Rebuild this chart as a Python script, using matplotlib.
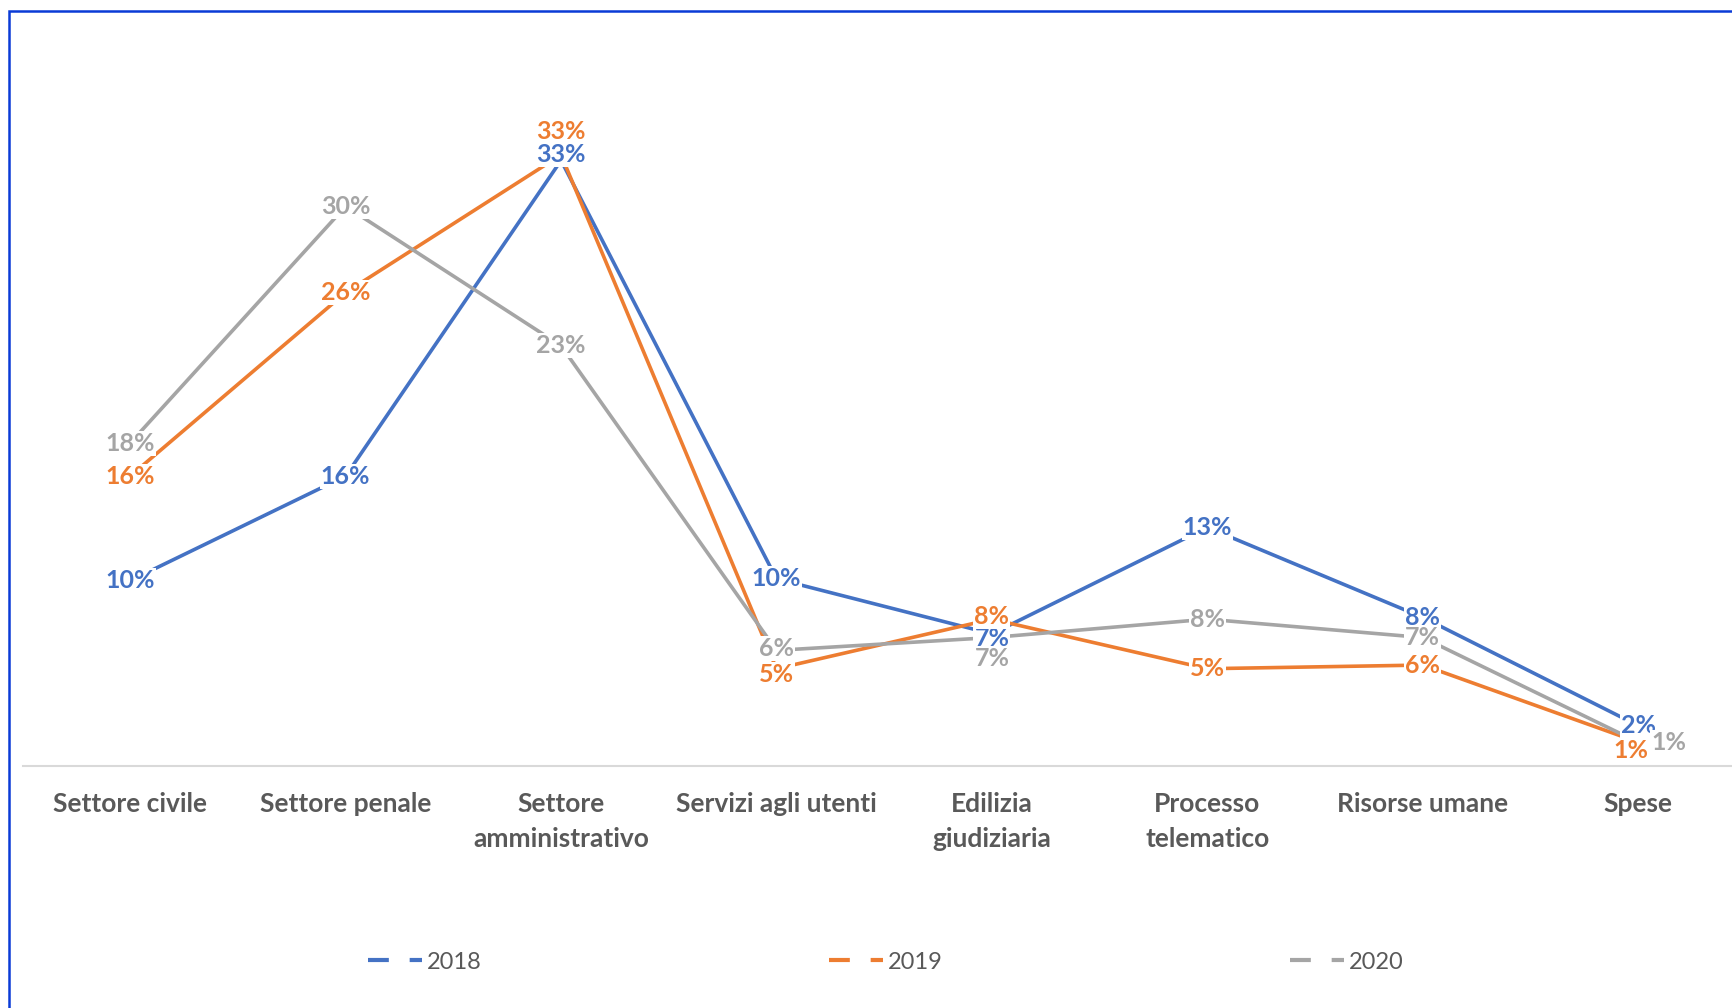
import numpy as np
import matplotlib
matplotlib.use("Agg")
import matplotlib.pyplot as plt
from matplotlib.lines import Line2D
from matplotlib.patches import Rectangle

plt.rcParams['font.family'] = ['Lato', 'DejaVu Sans']

# data (share of items per area, %)
categories = ['Settore civile', 'Settore penale', 'Settore\namministrativo',
              'Servizi agli utenti', 'Edilizia\ngiudiziaria', 'Processo\ntelematico',
              'Risorse umane', 'Spese']
years = ['2018', '2019', '2020']
v2018 = [10.1, 15.8, 33.0, 10.2, 7.2, 13.0, 8.1, 2.2]
v2019 = [15.8, 25.8, 33.3, 5.3, 8.0, 5.3, 5.5, 1.3]
v2020 = [17.6, 30.5, 22.9, 6.3, 7.0, 8.0, 7.0, 1.3]
labels2018 = ['10%', '16%', '33%', '10%', '7%', '13%', '8%', '2%']
labels2019 = ['16%', '26%', '33%', '5%', '8%', '5%', '6%', '1%']
labels2020 = ['18%', '30%', '23%', '6%', '7%', '8%', '7%', '1%']

colors = ['#4472C4', '#ED7D31', '#A5A5A5']
txt_col = '#595959'

# label nudges (points) where the labels were moved by hand
offsets = {
    (0, 2): (0, 4), (1, 2): (0, 17),
    (0, 4): (0, -3), (1, 4): (0, 2), (1, 3): (0, -4), (2, 3): (0, 1),
    (2, 4): (0, -15), (2, 7): (22, 0), (1, 7): (-5, -6),
}

fig = plt.figure(figsize=(17.33, 10.08), dpi=100)
ax = fig.add_axes([0.013, 0.2401, 0.9944, 0.7282])

x = np.arange(len(categories))
series = [v2018, v2019, v2020]
labs = [labels2018, labels2019, labels2020]

for i, (vals, col) in enumerate(zip(series, colors)):
    ax.plot(x, vals, color=col, lw=2.6, zorder=2, solid_capstyle='butt')

for i, (vals, col) in enumerate(zip(series, colors)):
    for j, (v, t) in enumerate(zip(vals, labs[i])):
        dx, dy = offsets.get((i, j), (0, 0))
        ax.annotate(t, (x[j], v), xytext=(dx, dy), textcoords='offset points',
                    ha='center', va='center', fontsize=18, fontweight='bold',
                    color=col, zorder=5 + i, annotation_clip=False,
                    bbox=dict(fc='white', ec='none', pad=0.8))

ax.set_xlim(-0.5, len(categories) - 0.5)
ax.set_ylim(0, 40)
ax.set_xticks(x)
ax.set_xticklabels(categories, fontsize=19, fontweight='bold', color=txt_col,
                   linespacing=1.55, va='top')
ax.tick_params(axis='x', length=0, pad=19)
ax.set_yticks([])
for s in ['top', 'right', 'left']:
    ax.spines[s].set_visible(False)
ax.spines['bottom'].set_color('#D9D9D9')
ax.spines['bottom'].set_linewidth(1.5)

handles = [Line2D([], [], color=c, lw=3, ls=(0, (5, 5))) for c in colors]
leg = fig.legend(handles, years, loc='center', bbox_to_anchor=(0.511, 0.0456),
                 ncol=3, frameon=False, fontsize=17, handlelength=2.3,
                 handletextpad=0.2, columnspacing=14.7)
for t in leg.get_texts():
    t.set_color(txt_col)

# blue frame of the chart object (only left and top edges visible)
fig.add_artist(Rectangle((9 / 1733, -0.1), 1.2, 1 - 11 / 1008 + 0.1,
                         transform=fig.transFigure, fill=False,
                         ec='#0A3BD6', lw=1.8, zorder=10))

fig.savefig('out.png', dpi=100)
